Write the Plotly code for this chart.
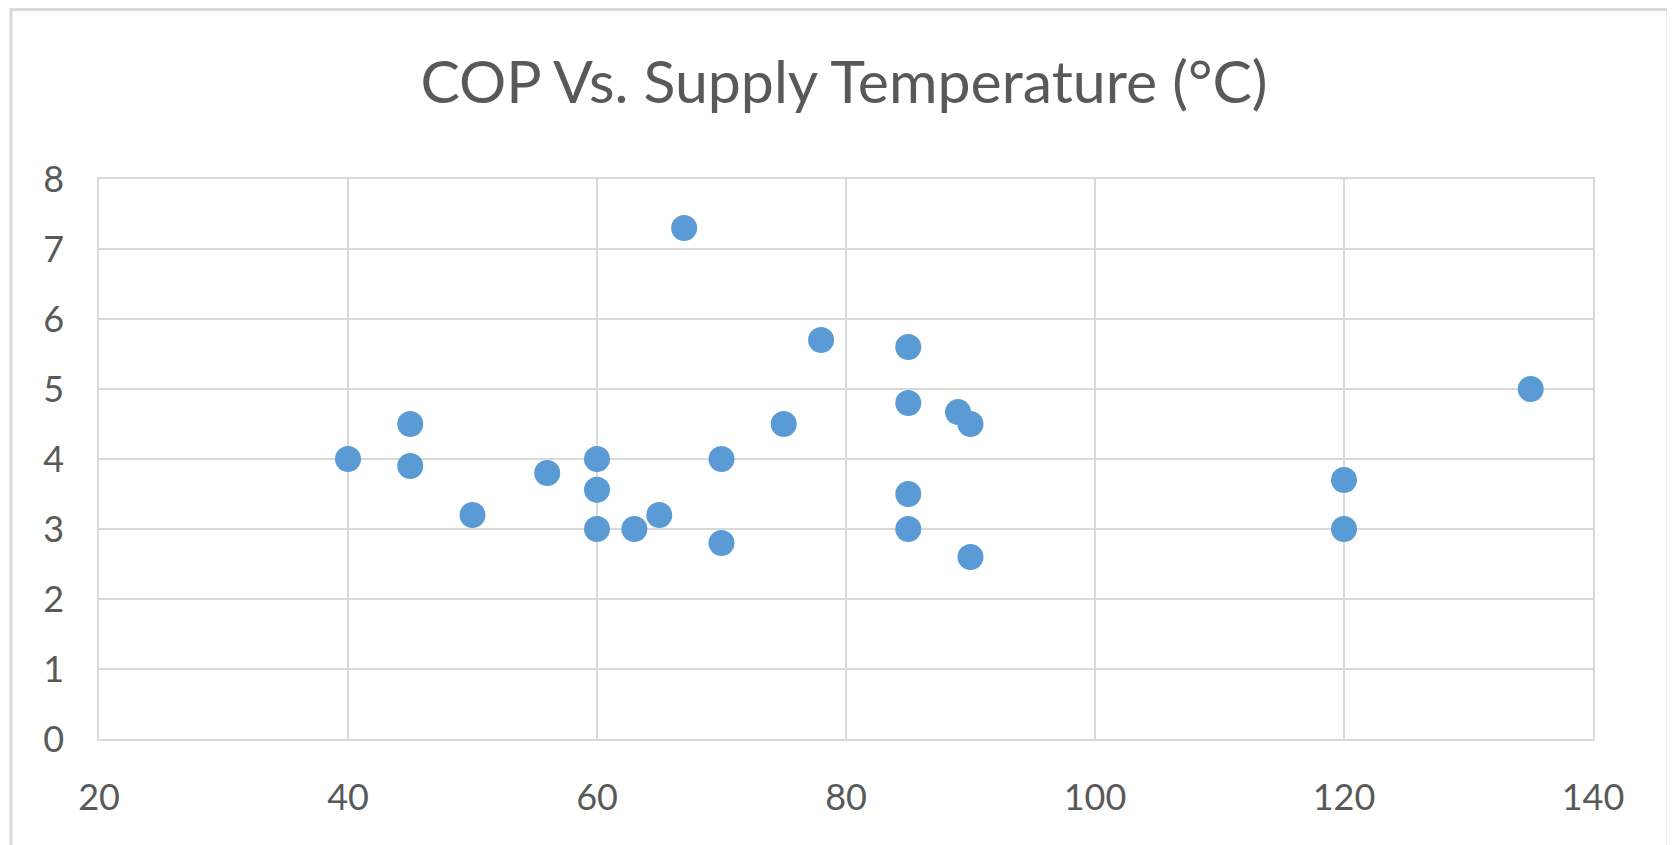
import plotly.graph_objects as go

title_text = "COP Vs. Supply Temperature (°C)"
supply_temp = [40, 45, 45, 50, 56, 60, 60, 60, 63, 65, 67, 70, 70, 75, 78,
               85, 85, 85, 85, 89, 90, 90, 120, 120, 135]
cop = [4.0, 4.5, 3.9, 3.2, 3.8, 4.0, 3.56, 3.0, 3.0, 3.2, 7.3, 4.0, 2.8, 4.5, 5.7,
       5.6, 4.8, 3.5, 3.0, 4.67, 4.5, 2.6, 3.7, 3.0, 5.0]
x_ticks = [20, 40, 60, 80, 100, 120, 140]
y_ticks = [0, 1, 2, 3, 4, 5, 6, 7, 8]

FONT = "Lato"
GRID = "#d9d9d9"
TXT = "#595959"

fig = go.Figure()
fig.add_trace(go.Scatter(
    x=supply_temp, y=cop, mode="markers",
    marker=dict(color="#5B9BD5", size=26, line=dict(width=0)),
    showlegend=False, hoverinfo="x+y",
))

fig.update_layout(
    width=1667, height=837,
    margin=dict(l=91, r=82, t=171, b=106),
    paper_bgcolor="white", plot_bgcolor="white",
    title=dict(text=title_text, x=0.5015, xanchor="center", y=0.911, yanchor="middle",
               font=dict(family=FONT, size=59, color=TXT)),
    font=dict(family=FONT, color=TXT),
    xaxis=dict(range=[20, 140], tickvals=x_ticks, showgrid=True, gridcolor=GRID, gridwidth=1.5,
               showline=True, linecolor=GRID, linewidth=1.5, mirror=True, zeroline=False,
               ticks="", tickfont=dict(family=FONT, size=36, color=TXT), ticklabelstandoff=26),
    yaxis=dict(range=[0, 8], tickvals=y_ticks, showgrid=True, gridcolor=GRID, gridwidth=1.5,
               showline=True, linecolor=GRID, linewidth=1.5, mirror=True, zeroline=False,
               ticks="", tickfont=dict(family=FONT, size=36, color=TXT), ticklabelstandoff=26),
    shapes=[dict(type="rect", xref="paper", yref="paper",
                 x0=-0.0589, x1=1.0502, y0=-0.3, y1=1.3027,
                 line=dict(color="#d9d9d9", width=3), fillcolor="rgba(0,0,0,0)", layer="below")],
)

fig.write_html("out.html")
